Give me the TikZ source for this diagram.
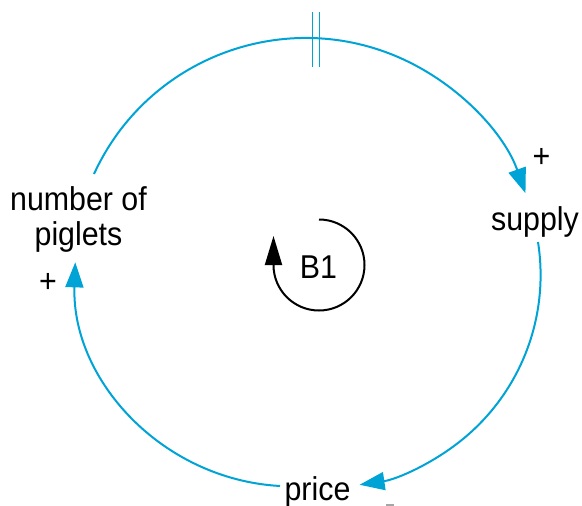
\documentclass[tikz,border=0pt]{standalone}
\usepackage{fontspec}
\setmainfont{Liberation Sans}[FakeStretch=0.92]
\usetikzlibrary{arrows.meta}
\definecolor{linkblue}{RGB}{0,163,214}
\begin{document}
\begin{tikzpicture}[x=1pt,y=-1pt,
  lbl/.style={font=\fontsize{33}{35}\selectfont, inner sep=0pt, align=center},
  link/.style={draw=linkblue, line width=2pt, -{Triangle[length=25pt,width=18pt]}},
  delaybar/.style={draw=linkblue, line width=1.6pt},
  loopsym/.style={draw=black, line width=2pt, -{Triangle[length=29pt,width=17pt]}}]
\useasboundingbox (0,0) rectangle (582,506);

% variables
\node[lbl] (piglets) at (78.5,219) {number of\\piglets};
\node[lbl, anchor=base] (supply) at (535,230) {supply};
\node[lbl, anchor=base] (price) at (317.5,500) {price};
\node[lbl, anchor=base] (b1) at (318.5,278) {B1};
\node[lbl] (plusS) at (541.5,158) {+};
\node[lbl] (plusP) at (48,283) {+};

% connector end points
\coordinate (l1s) at (94,174);
\coordinate (l2s) at (538,242);
\coordinate (l3s) at (280,486);
\coordinate (b1s) at (319,219.5);

% links
\draw[link] (l1s) arc[start angle=204.6, end angle=340.5, radius=233];
\draw[link] (l2s) arc[start angle=-8.97, end angle=81.6, radius=212];
\draw[link] (l3s) arc[start angle=93.2, end angle=181.85, radius=217];

% delay mark
\draw[delaybar] (312.5,12) -- (312.5,67);
\draw[delaybar] (319.5,12) -- (319.5,67);

% loop symbol
\draw[loopsym] (b1s) arc[start angle=-90, end angle=180, radius=45.5] -- ++(0,-29);

% small clipped mark
\fill[gray!70] (386,504) rectangle (394,506);
\end{tikzpicture}
\end{document}
